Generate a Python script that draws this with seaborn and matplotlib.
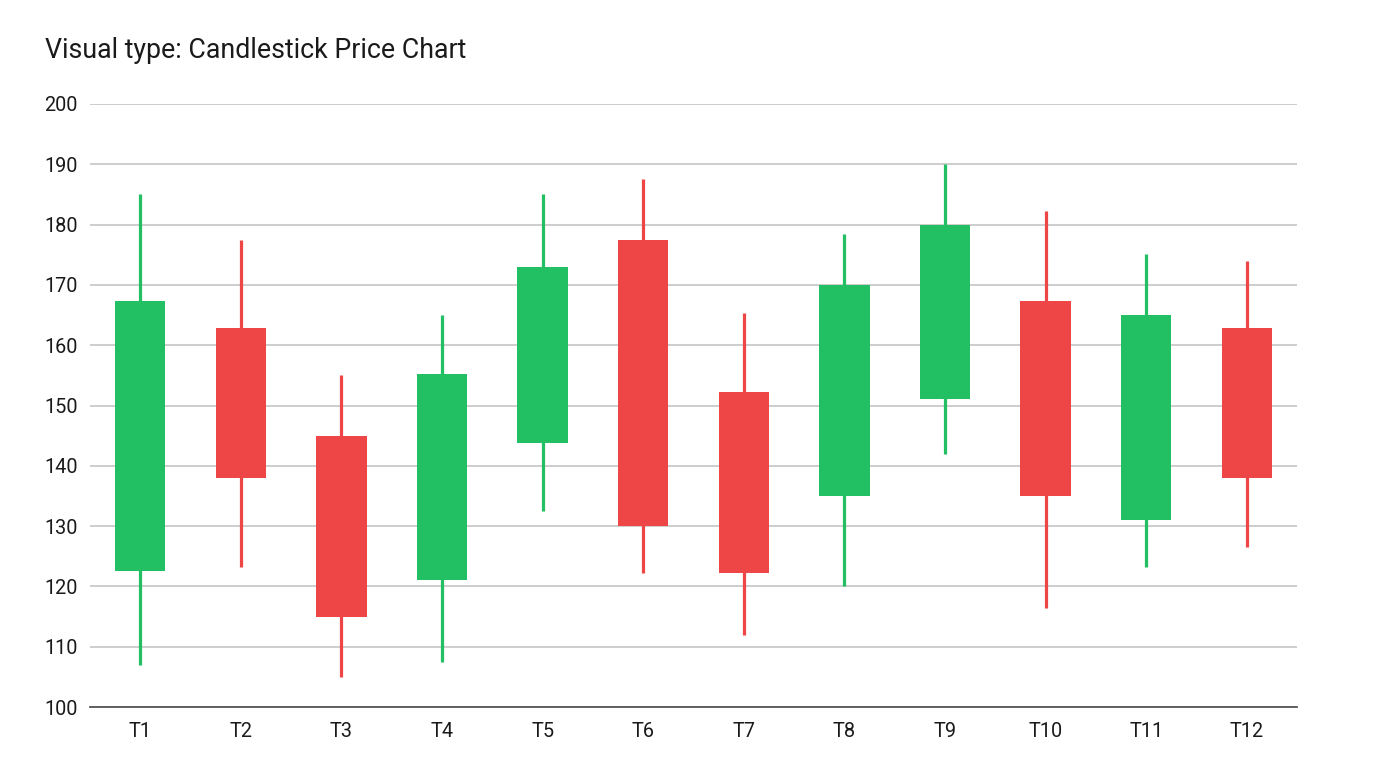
import pandas as pd
import seaborn as sns
import numpy as np
import matplotlib.pyplot as plt

# candle values
periods = ["T1", "T2", "T3", "T4", "T5", "T6", "T7", "T8", "T9", "T10", "T11", "T12"]
opens = [122.5, 162.8, 145.0, 121.0, 143.8, 177.5, 152.2, 135.0, 151.0, 167.3, 131.0, 162.8]
closes = [167.3, 138.0, 115.0, 155.2, 173.0, 130.0, 122.3, 170.0, 180.0, 135.0, 165.0, 138.0]
highs = [185.0, 177.5, 155.0, 165.0, 185.0, 187.5, 165.3, 178.5, 190.0, 182.3, 175.2, 174.0]
lows = [107.0, 123.3, 105.0, 107.5, 132.5, 122.3, 112.0, 120.0, 142.0, 116.5, 123.3, 126.5]

up_color = "#22bf63"
down_color = "#ee4646"

df = pd.DataFrame({"period": periods, "open": opens, "close": closes,
                   "high": highs, "low": lows})
df["pos"] = np.arange(len(df))
df["color"] = np.where(df["close"] >= df["open"], up_color, down_color)
df["bottom"] = df[["open", "close"]].min(axis=1)
df["height"] = (df["close"] - df["open"]).abs()

sns.set_theme(style="white")
plt.rcParams["font.family"] = ["Roboto", "DejaVu Sans"]

fig = plt.figure(figsize=(13.76, 7.68), dpi=100)
ax = fig.add_axes([0.0654, 0.0794, 0.8772, 0.7852])

ax.set_axisbelow(True)
ax.yaxis.grid(True, color="#c0c0c0", linewidth=1.1)

# wicks then bodies
ax.vlines(df["pos"], df["low"], df["high"], colors=df["color"], linewidth=2.3, zorder=2)
ax.bar(df["pos"], df["height"], bottom=df["bottom"], width=0.5,
       color=df["color"], linewidth=0, zorder=3)

ax.set_xlim(-0.5, len(df) - 0.5)
ax.set_ylim(100, 200)
ax.set_yticks(np.arange(100, 201, 10))
ax.set_xticks(df["pos"])
ax.set_xticklabels(df["period"])
ax.tick_params(axis="both", length=0, labelsize=14.3, colors="#1a1a1a")
ax.tick_params(axis="y", pad=9)
ax.tick_params(axis="x", pad=11)

sns.despine(ax=ax, left=True, top=True, right=True)
ax.spines["bottom"].set_color("#555555")
ax.spines["bottom"].set_linewidth(1.3)

fig.text(0.0327, 0.934, "Visual type: Candlestick Price Chart", fontsize=19.3,
         color="#1a1a1a", ha="left", va="center")

plt.savefig("out.png", dpi=100, facecolor="white")
